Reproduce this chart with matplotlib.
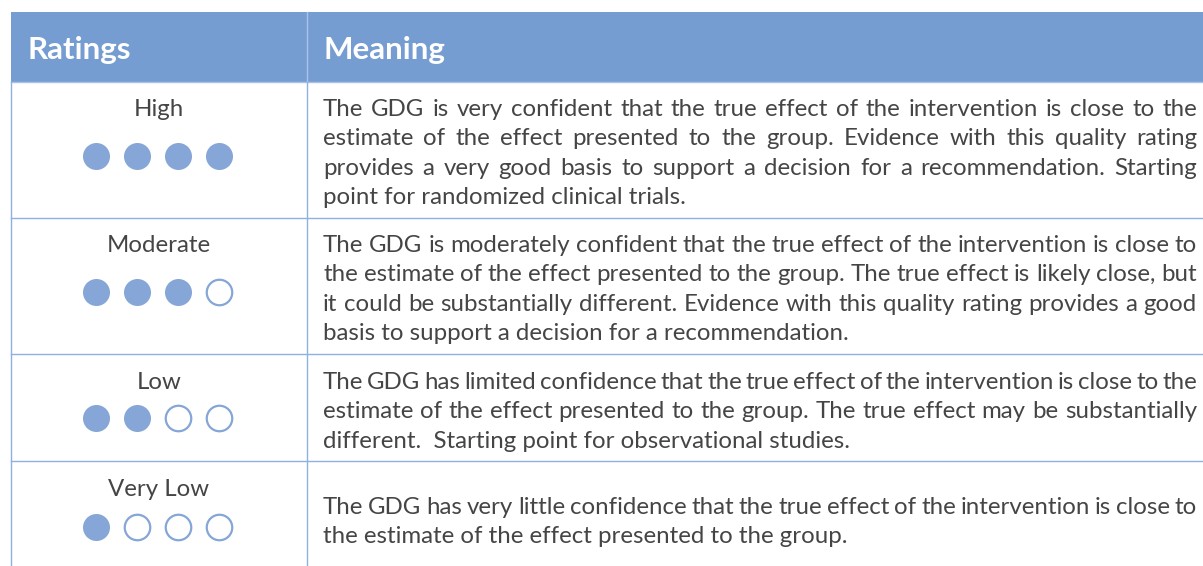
"""GRADE evidence quality table: ratings with dot scale and justified meaning text."""

import matplotlib

matplotlib.use("Agg")

import matplotlib.pyplot as plt
from matplotlib.patches import Rectangle

# ---- data ------------------------------------------------------------------ #
HEADERS = ["Ratings", "Meaning"]
RATINGS = ["High", "Moderate", "Low", "Very Low"]
FILLED = [4, 3, 2, 1]          # filled dots out of MAX_DOTS
MAX_DOTS = 4
MEANINGS = [
    ["The GDG is very confident that the true effect of the intervention is close to the",
     "estimate of the effect presented to the group. Evidence with this quality rating",
     "provides a very good basis to support a decision for a recommendation. Starting",
     "point for randomized clinical trials."],
    ["The GDG is moderately confident that the true effect of the intervention is close to",
     "the estimate of the effect presented to the group. The true effect is likely close, but",
     "it could be substantially different. Evidence with this quality rating provides a good",
     "basis to support a decision for a recommendation."],
    ["The GDG has limited confidence that the true effect of the intervention is close to the",
     "estimate of the effect presented to the group. The true effect may be substantially",
     "different.  Starting point for observational studies."],
    ["The GDG has very little confidence that the true effect of the intervention is close to",
     "the estimate of the effect presented to the group."],
]

# ---- style / layout (pixels) ---------------------------------------------- #
HEADER_BG = "#769dd1"
HEADER_LINE = "#a9c3e7"
GRID = "#8fb0e0"
DOT = "#85a6d6"
TEXT = "#454545"
FONT = "Lato"

W, H = 1203, 566
LEFT, SPLIT, TOP, HEAD_BOT = 11, 307, 12, 82
ROW_BOTTOMS = [218, 354, 461]
TEXT_X0, TEXT_X1 = 323, 1197
LINE_GAP = 29.3
FIRST_BASE = [116, 252, 389, 514]
LABEL_BASE = [116, 252, 389, 496]
DOT_Y = [156, 292, 418, 527]
DOT_X0, DOT_DX = 96, 41
LABEL_X = 159


def _width(ax, renderer, s, size, weight="normal"):
    t = ax.text(0, 0, s, fontsize=size, family=FONT, fontweight=weight)
    w = t.get_window_extent(renderer).width
    t.remove()
    return w


def _justify(ax, renderer, line, x0, x1, y, size):
    words = line.split(" ")
    widths = [_width(ax, renderer, w, size) for w in words]
    gap = (x1 - x0 - sum(widths)) / (len(words) - 1)
    x = x0
    for w, wd in zip(words, widths):
        ax.text(x, y, w, fontsize=size, family=FONT, color=TEXT,
                ha="left", va="baseline")
        x += wd + gap


def main():
    fig = plt.figure(figsize=(W / 100, H / 100), dpi=100)
    ax = fig.add_axes([0, 0, 1, 1])
    ax.set_xlim(0, W)
    ax.set_ylim(H, 0)
    ax.axis("off")
    renderer = fig.canvas.get_renderer()

    # fit fonts to measured widths in the reference
    body = 10 * 526 / _width(ax, renderer, MEANINGS[3][1], 10)
    head = 10 * 122 / _width(ax, renderer, HEADERS[1], 10, "bold")

    # header band
    ax.add_patch(Rectangle((LEFT, TOP), W - LEFT, HEAD_BOT - TOP,
                           facecolor=HEADER_BG, edgecolor="none"))
    ax.plot([SPLIT, SPLIT], [TOP, HEAD_BOT], color=HEADER_LINE, lw=1)
    ax.plot([LEFT, W], [HEAD_BOT, HEAD_BOT], color=HEADER_LINE, lw=1)
    ax.text(27, 59, HEADERS[0], fontsize=head, family=FONT, fontweight="bold",
            color="white", va="baseline")
    ax.text(323, 59, HEADERS[1], fontsize=head, family=FONT, fontweight="bold",
            color="white", va="baseline")

    # grid
    ax.plot([LEFT, LEFT], [HEAD_BOT, H], color=GRID, lw=1)
    ax.plot([SPLIT, SPLIT], [HEAD_BOT, H], color=GRID, lw=1)
    for yb in ROW_BOTTOMS:
        ax.plot([LEFT, W], [yb, yb], color=GRID, lw=1)

    for i, (rating, nfill, lines) in enumerate(zip(RATINGS, FILLED, MEANINGS)):
        ax.text(LABEL_X, LABEL_BASE[i], rating, fontsize=body, family=FONT,
                color=TEXT, ha="center", va="baseline")
        xs = [DOT_X0 + k * DOT_DX for k in range(MAX_DOTS)]
        ax.scatter(xs[:nfill], [DOT_Y[i]] * nfill, s=(27 * 0.72) ** 2,
                   color=DOT, linewidths=0, zorder=3)
        nempty = MAX_DOTS - nfill
        if nempty:
            ax.scatter(xs[nfill:], [DOT_Y[i]] * nempty, s=(25.5 * 0.72) ** 2,
                       facecolor="white", edgecolor=DOT, linewidths=1.6, zorder=3)
        for j, line in enumerate(lines):
            y = FIRST_BASE[i] + j * LINE_GAP
            if j < len(lines) - 1:
                _justify(ax, renderer, line, TEXT_X0, TEXT_X1, y, body)
            else:
                ax.text(TEXT_X0, y, line, fontsize=body, family=FONT,
                        color=TEXT, ha="left", va="baseline")

    fig.savefig("out.png", dpi=100)
    plt.close(fig)


if __name__ == "__main__":
    main()
